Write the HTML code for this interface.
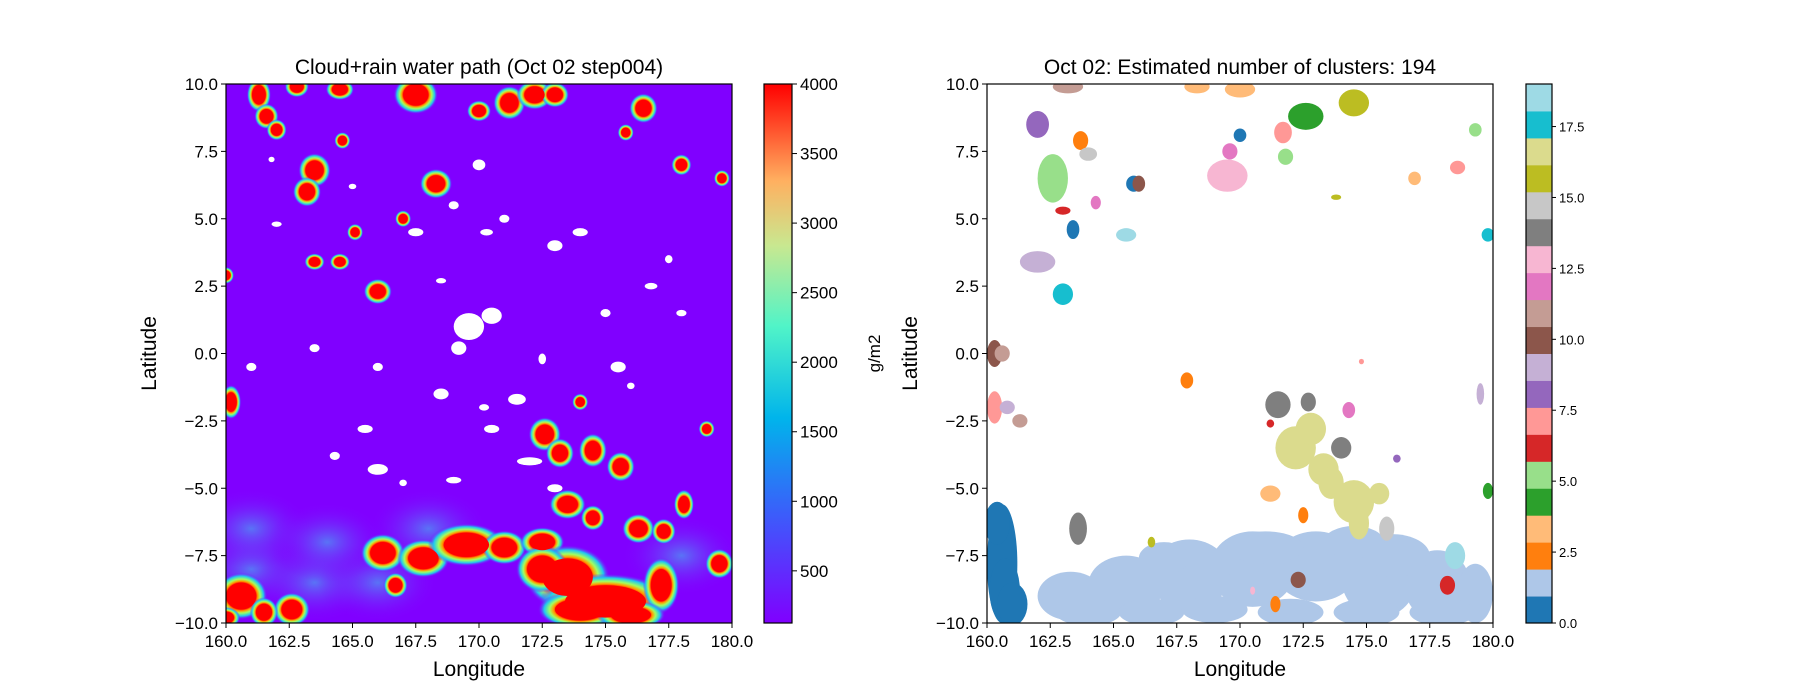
<!DOCTYPE html>
<html><head><meta charset="utf-8"><style>
body{margin:0;background:#fff;}
svg{display:block;font-family:"Liberation Sans","DejaVu Sans",sans-serif;}
</style></head><body>
<svg id="fig" width="1800" height="700" viewBox="0 0 1800 700">
<defs>
<radialGradient id="halo">
<stop offset="0.55" stop-color="#ff0000"/>
<stop offset="0.63" stop-color="#ffa000"/>
<stop offset="0.72" stop-color="#a0ff60"/>
<stop offset="0.85" stop-color="#20c8f0"/>
<stop offset="1" stop-color="#8000ff" stop-opacity="0"/>
</radialGradient>
<radialGradient id="haze">
<stop offset="0" stop-color="#40c0f0" stop-opacity="0.6"/>
<stop offset="1" stop-color="#8000ff" stop-opacity="0"/>
</radialGradient>
<linearGradient id="rainbow" x1="0" y1="1" x2="0" y2="0">
<stop offset="0" stop-color="#8000ff"/>
<stop offset="0.2" stop-color="#3c5cfb"/>
<stop offset="0.38" stop-color="#00b4eb"/>
<stop offset="0.55" stop-color="#50f4c8"/>
<stop offset="0.7" stop-color="#c8e890"/>
<stop offset="0.82" stop-color="#ffb060"/>
<stop offset="1" stop-color="#ff0000"/>
</linearGradient>
<clipPath id="clipL"><rect x="226" y="84" width="506" height="539"/></clipPath>
<clipPath id="clipR"><rect x="987" y="84" width="506" height="539"/></clipPath>
</defs>
<g id="left"></g>
<g id="right"></g>
<g id="cbars"></g>
</svg>
<script>
const NS="http://www.w3.org/2000/svg";
// ---- data ----
const lonTicks=[160,162.5,165,167.5,170,172.5,175,177.5,180];
const latTicks=[-10,-7.5,-5,-2.5,0,2.5,5,7.5,10];
const cbTicksL=[500,1000,1500,2000,2500,3000,3500,4000];
const cbRangeL=[125,4000];
const cbTicksR=[0,2.5,5,7.5,10,12.5,15,17.5];
const cbRangeR=[0,19];
const tab20=["#1f77b4","#aec7e8","#ff7f0e","#ffbb78","#2ca02c","#98df8a","#d62728","#ff9896","#9467bd","#c5b0d5","#8c564b","#c49c94","#e377c2","#f7b6d2","#7f7f7f","#c7c7c7","#bcbd22","#dbdb8d","#17becf","#9edae5"];
// left: red cloud cores [lon,lat,rx,ry]
const redLon=[160.6,162.6,161.5,166.2,167.8,169.5,171,172.5,173.5,175,172.5,177.2,176.3,179.5,172.6,173.2,174.5,175.6,173.5,174.5,177.3,178.1,160.2,166,163.5,163.2,168.3,163.5,164.5,167.5,171.2,172.2,173,176.5,161.3,161.6,162.8,164.5,170,174,179.6,175.8,164.6,162,160,165.1,167,178,179,166.7,160,174,176];
const redLat=[-9.0,-9.5,-9.6,-7.4,-7.6,-7.1,-7.2,-7.0,-8.3,-9.2,-8.0,-8.6,-6.5,-7.8,-3.0,-3.7,-3.6,-4.2,-5.6,-6.1,-6.6,-5.6,-1.8,2.3,6.8,6.0,6.3,3.4,3.4,9.6,9.3,9.6,9.6,9.1,9.6,8.8,9.9,9.8,9.0,-1.8,6.5,8.2,7.9,8.3,2.9,4.5,5.0,7.0,-2.8,-8.6,-9.8,-9.5,-9.7];
const redRx=[.6,.4,.3,.5,.6,.9,.5,.5,1.0,1.6,.6,.4,.35,.3,.35,.3,.3,.3,.4,.25,.25,.2,.2,.3,.35,.3,.35,.2,.2,.5,.35,.4,.3,.3,.25,.25,.25,.3,.25,.15,.15,.15,.15,.2,.15,.15,.15,.2,.15,.25,.3,1.0,.8];
const redRy=[.5,.35,.3,.4,.4,.45,.35,.3,.7,.6,.5,.6,.3,.3,.35,.3,.35,.3,.3,.25,.25,.3,.35,.25,.35,.3,.3,.15,.15,.4,.35,.3,.25,.3,.35,.25,.2,.2,.2,.15,.15,.15,.15,.2,.15,.15,.15,.2,.15,.25,.2,.4,.3];
// left: white (missing) patches
const whiteLon=[169.6,170.5,168.5,173,175.5,172,166,165.5,170.5,171.5,167.5,170,173,169,170.3,171.5,161,163.5,162,174,176.8,178,166,172.5,168.5,169.2,170.2,164.3,167,175,177.5,161.8,165,169,176,171];
const whiteLat=[1.0,1.4,-1.5,4,-0.5,-4.0,-4.3,-2.8,-2.8,-1.7,4.5,7.0,-5,-4.7,4.5,9.2,-0.5,0.2,4.8,4.5,2.5,1.5,-0.5,-0.2,2.7,0.2,-2.0,-3.8,-4.8,1.5,3.5,7.2,6.2,5.5,-1.2,5.0];
const whiteRx=[.6,.4,.3,.3,.3,.5,.4,.3,.3,.35,.3,.25,.3,.3,.25,.15,.2,.2,.2,.3,.25,.2,.2,.15,.2,.3,.2,.2,.15,.2,.15,.12,.15,.2,.15,.2];
const whiteRy=[.5,.3,.2,.2,.2,.15,.2,.15,.15,.2,.15,.2,.15,.12,.12,.3,.15,.15,.1,.15,.12,.12,.15,.2,.1,.25,.12,.15,.12,.15,.15,.1,.1,.15,.12,.15];
// right: clusters
const clLon=[163.3,165.5,168,170.5,173,175.5,177.8,179.3,171,176,160.6,161,172.2,173.3,174.5,174.7,175.5,171.5,172.7,174,163.6,175.8,164,162.6,171.8,179.3,169.5,170.5,162,176.2,162,160.8,179.5,163,179.8,165.5,178.5,174.5,173.8,166.5,172.6,179.8,170,168.3,171.2,176.9,163.2,161.3,160.6,160.3,171.7,178.6,174.8,160.3,166,172.3,163,178.2,171.2,163.7,167.9,172.5,171.4,165.8,163.4,170,169.6,174.3,164.3,164,166.5,169,172,175,178,174.5,167,160.4,160.7,172.8,173.6];
const clLat=[-9.0,-8.6,-8.2,-8.0,-7.9,-8.3,-8.6,-8.9,-7.2,-7.5,-7.8,-9.3,-3.5,-4.3,-5.5,-6.3,-5.2,-1.9,-1.8,-3.5,-6.5,-6.5,7.4,6.5,7.3,8.3,6.6,-8.8,8.5,-3.9,3.4,-2.0,-1.5,2.2,4.4,4.4,-7.5,9.3,5.8,-7.0,8.8,-5.1,9.8,9.9,-5.2,6.5,9.9,-2.5,0,-2.0,8.2,6.9,-0.3,0.0,6.3,-8.4,5.3,-8.6,-2.6,7.9,-1.0,-6.0,-9.3,6.3,4.6,8.1,7.5,-2.1,5.6,-9.6,-9.6,-9.5,-9.6,-9.6,-9.6,-7.0,-7.6,-6.3,-8.8,-2.8,-4.8];
const clRx=[1.3,1.5,1.6,1.7,1.7,1.5,1.3,.7,1.5,1.5,.6,.6,.8,.6,.8,.4,.4,.5,.3,.4,.35,.3,.35,.6,.3,.25,.8,.1,.45,.15,.7,.3,.15,.4,.25,.4,.4,.6,.2,.15,.7,.2,.6,.5,.4,.25,.6,.3,.3,.3,.35,.3,.1,.3,.25,.3,.3,.3,.15,.3,.25,.2,.2,.3,.25,.25,.3,.25,.2,1.3,1.3,1.3,1.3,1.3,1.3,1.2,1.0,.5,.6,.6,.5];
const clRy=[.9,1.1,1.3,1.4,1.3,1.5,1.3,1.1,.6,.8,2.2,.8,.8,.6,.8,.6,.4,.5,.35,.4,.6,.45,.25,.9,.3,.25,.6,.15,.5,.15,.4,.25,.4,.4,.25,.25,.5,.5,.1,.2,.5,.3,.3,.25,.3,.25,.25,.25,.3,.6,.4,.25,.1,.5,.3,.3,.15,.35,.15,.35,.3,.3,.3,.3,.35,.25,.3,.3,.25,.5,.5,.5,.5,.5,.5,.6,.6,.8,1.2,.6,.6];
const clId=[1,1,1,1,1,1,1,1,1,1,0,0,17,17,17,17,17,14,14,14,14,15,15,5,5,5,13,13,8,8,9,9,9,18,18,19,19,16,16,16,4,4,3,3,3,3,11,11,11,7,7,7,7,10,10,10,6,6,6,2,2,2,2,0,0,0,12,12,12,1,1,1,1,1,1,1,1,0,0,17,17];

function el(tag,attrs,parent){const e=document.createElementNS(NS,tag);for(const k in attrs)e.setAttribute(k,attrs[k]);parent.appendChild(e);return e;}
const W=506,H=539,TOP=84;
function xs(x0){return lon=>x0+(lon-160)/20*W;}
function ys(lat){return TOP+(10-lat)/20*H;}

function axes(g,x0,title,ylabel){
  const X=xs(x0);
  const f=el('rect',{x:x0,y:TOP,width:W,height:H,fill:'none',stroke:'#000','stroke-width':1.2},g);
  
  lonTicks.forEach(v=>{const x=X(v);
    el('line',{x1:x,y1:TOP+H,x2:x,y2:TOP+H+5,stroke:'#000'},g);
    const t=el('text',{x:x,y:TOP+H+24,'font-size':17,'text-anchor':'middle'},g);t.textContent=v.toFixed(1);
    });
  latTicks.forEach(v=>{const y=ys(v);
    el('line',{x1:x0-5,y1:y,x2:x0,y2:y,stroke:'#000'},g);
    const t=el('text',{x:x0-8,y:y+6,'font-size':17,'text-anchor':'end'},g);t.textContent=(v<0?'\u2212'+(-v).toFixed(1):v.toFixed(1));
    });
  const tt=el('text',{x:x0+W/2,y:TOP-10,'font-size':21,'text-anchor':'middle'},g);tt.textContent=title;
  
  const xl=el('text',{x:x0+W/2,y:TOP+H+53,'font-size':21,'text-anchor':'middle'},g);xl.textContent='Longitude';
  
  const yl=el('text',{x:0,y:0,'font-size':21,'text-anchor':'middle',transform:`translate(${x0-70},${TOP+H/2}) rotate(-90)`},g);yl.textContent=ylabel;
  
}

// left map
const L=document.getElementById('left');const XL=xs(226);
const lc=el('g',{'clip-path':'url(#clipL)'},L);
el('rect',{x:226,y:TOP,width:W,height:H,fill:'#8000ff'},lc);
[[161,-8],[163.5,-8.5],[166,-8.5],[168,-6.5],[178,-7.5],[161,-6.5],[164,-7]].forEach(p=>{el('ellipse',{cx:XL(p[0]),cy:ys(p[1]),rx:60,ry:40,fill:'url(#haze)'},lc);});
whiteLon.forEach((v,i)=>{const e=el('ellipse',{cx:XL(v),cy:ys(whiteLat[i]),rx:whiteRx[i]*W/20,ry:whiteRy[i]*H/20,fill:'#fff'},lc);
  });
redLon.forEach((v,i)=>{const cx=XL(v),cy=ys(redLat[i]),rx=redRx[i]*W/20,ry=redRy[i]*H/20;
  el('ellipse',{cx:cx,cy:cy,rx:rx*1.6+2,ry:ry*1.6+2,fill:'url(#halo)'},lc);});
redLon.forEach((v,i)=>{const e=el('ellipse',{cx:XL(v),cy:ys(redLat[i]),rx:redRx[i]*W/20,ry:redRy[i]*H/20,fill:'#ff0000'},lc);
  });
axes(L,226,'Cloud+rain water path (Oct 02 step004)','Latitude');

// right map
const R=document.getElementById('right');const XR=xs(987);
const rc=el('g',{'clip-path':'url(#clipR)'},R);
// draw big clusters (band) first
const order=clLon.map((_,i)=>i).sort((a,b)=>(clRx[b]*clRy[b])-(clRx[a]*clRy[a]));
order.forEach(i=>{const e=el('ellipse',{cx:XR(clLon[i]),cy:ys(clLat[i]),rx:clRx[i]*W/20,ry:clRy[i]*H/20,fill:tab20[clId[i]]},rc);
  });
axes(R,987,'Oct 02: Estimated number of clusters: 194','Latitude');

// colorbars
const C=document.getElementById('cbars');
const cbL=el('g',{},C);
el('rect',{x:764,y:TOP,width:28,height:H,fill:'url(#rainbow)',stroke:'#000','stroke-width':1.2},cbL);
cbTicksL.forEach(v=>{const y=TOP+H-(v-cbRangeL[0])/(cbRangeL[1]-cbRangeL[0])*H;
  el('line',{x1:792,y1:y,x2:797,y2:y,stroke:'#000'},cbL);
  const t=el('text',{x:800,y:y+6,'font-size':17},cbL);t.textContent=v;
  });
const gl=el('text',{x:0,y:0,'font-size':17,'text-anchor':'middle',transform:`translate(880,${TOP+H/2}) rotate(-90)`},cbL);gl.textContent='g/m2';


const cbR=el('g',{},C);
const n=tab20.length,bh=H/n;
tab20.forEach((c,i)=>{el('rect',{x:1526,y:TOP+H-(i+1)*bh,width:26,height:bh+0.5,fill:c},cbR);});
el('rect',{x:1526,y:TOP,width:26,height:H,fill:'none',stroke:'#000','stroke-width':1.2},cbR);
cbTicksR.forEach(v=>{const y=TOP+H-(v-cbRangeR[0])/(cbRangeR[1]-cbRangeR[0])*H;
  el('line',{x1:1552,y1:y,x2:1556,y2:y,stroke:'#000'},cbR);
  const t=el('text',{x:1559,y:y+5,'font-size':13},cbR);t.textContent=v.toFixed(1);
  });
</script>
</body></html>
